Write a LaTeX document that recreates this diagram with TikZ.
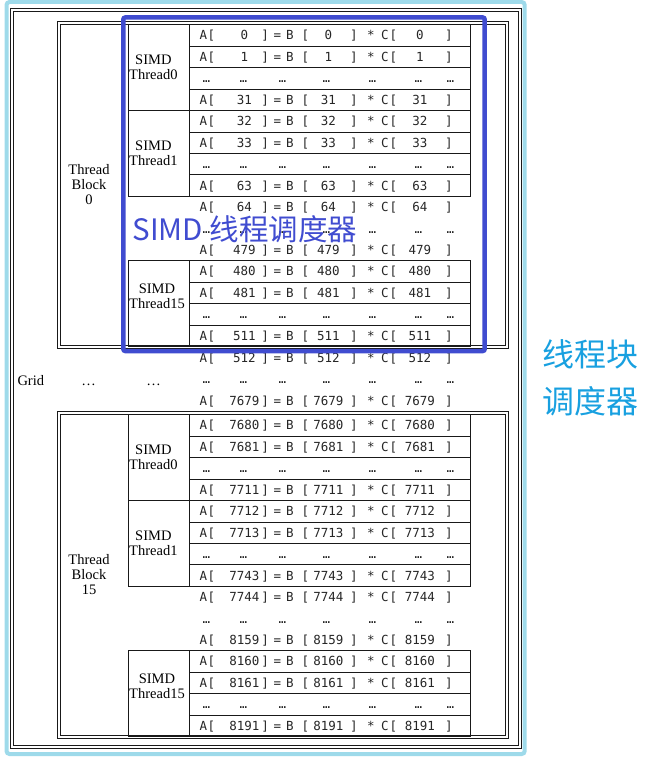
\documentclass[tikz,border=0pt]{standalone}
\usepackage{fontspec}
\setmainfont{Liberation Serif}
\newfontfamily\eqfont{DejaVu Sans Mono}
\newfontfamily\cjkfont{Noto Sans CJK SC}

\definecolor{simdblue}{RGB}{64,76,208}
\definecolor{frameblue}{RGB}{158,218,234}
\definecolor{tbblue}{RGB}{24,160,224}

% one character centred at a fixed offset from the cell's left edge
\newcommand\putc[2]{\makebox[0pt][l]{\hspace*{#1pt}\makebox[0pt][c]{#2}}}
\newcommand\eqline[3]{%
  \putc{14}{A}\putc{22}{[}\putc{55}{#1}\putc{75.6}{]}\putc{88}{=}%
  \putc{100.5}{B}\putc{116}{[}\putc{139}{#2}\putc{164.4}{]}\putc{181.5}{*}%
  \putc{195.5}{C}\putc{204}{[}\putc{230.5}{#3}\putc{259.4}{]}\hspace*{281pt}}
\newcommand\dotline{%
  \foreach \p in {17,54,93,137,183,229,261}{\putc{\p}{…}}\hspace*{281pt}}

\begin{document}
\begin{tikzpicture}[x=1pt,y=-1pt,
    frame/.style={line width=0.9pt, draw=black!90},
    cell/.style={draw=black!90, line width=0.9pt, inner sep=0pt,
      text height=15.2pt, text depth=6.25pt,
      font=\eqfont\fontsize{12.5}{14}\selectfont, text=black!85},
    free/.style={cell, draw=none},
    simdcell/.style={draw=black!90, line width=0.9pt, inner sep=0pt,
      minimum width=61pt, minimum height=85.8pt},
    simdlabel/.style={inner sep=0pt, align=center,
      font=\fontsize{14.5}{15}\selectfont},
    blocklabel/.style={inner sep=0pt, align=center,
      font=\fontsize{14.5}{15}\selectfont}]

\useasboundingbox (0,0) rectangle (670,760);

% scheduler frame and grid
\draw [line width=4pt, frameblue, rounded corners=3pt] (6.5,2) rectangle (524.7,754);
\draw [frame] (10.5,8.3) rectangle (521.3,748.5);
\draw [frame] (13.3,11) rectangle (518.5,745.7);

\node [inner sep=0pt, anchor=base west, font=\fontsize{14.5}{15}\selectfont] (grid) at (17.3,385) {Grid};
\node [inner sep=0pt, anchor=base, font=\fontsize{14.5}{15}\selectfont] (gdots1) at (88.5,385) {…};
\node [inner sep=0pt, anchor=base, font=\fontsize{14.5}{15}\selectfont] (gdots2) at (153.5,385) {…};

% thread blocks
\foreach \blk/\T/\base in {0/24.3/0, 15/414.3/7680} {
  \draw [frame] (57,\T-2.6) rectangle (508.3,\T+324.6);
  \draw [frame] (60,\T) rectangle (505,\T+321.6);
  \node [blocklabel] (tb\blk) at (89,\T+160.7) {Thread\\Block\\\blk};

  \foreach \r/\k/\st in {0/0/cell,1/1/cell,3/31/cell,4/32/cell,5/33/cell,7/63/cell,
                         8/64/free,10/479/free,11/480/cell,12/481/cell,14/511/cell} {
    \pgfmathtruncatemacro\n{\base+\k}
    \node [\st, anchor=north west] (r\blk-\r) at (189,{\T+\r*21.45}) {\eqline{\n}{\n}{\n}};
  }
  \foreach \r/\st in {2/cell,6/cell,9/free,13/cell}
    \node [\st, anchor=north west] (d\blk-\r) at (189,{\T+\r*21.45}) {\dotline};

  \foreach \s/\r/\dy in {0/0/0, 1/4/0, 15/11/7.5} {
    \node [simdcell, anchor=north west] (sc\blk-\s) at (128,{\T+\r*21.45}) {};
    \node [simdlabel, anchor=west] (sl\blk-\s) at ([xshift=1pt, yshift=\dy pt]sc\blk-\s.west) {SIMD\\Thread\s};
  }
}

% rows between the blocks
\node [free, anchor=north west] (r512) at (189,346.8) {\eqline{512}{512}{512}};
\node [free, anchor=north west] (dgrid) at (189,368.3) {\dotline};
\node [free, anchor=north west] (r7679) at (189,389.8) {\eqline{7679}{7679}{7679}};

% SIMD thread scheduler
\draw [line width=4.5pt, simdblue, rounded corners=2pt] (123.3,17.5) rectangle (484.7,351);
\node [inner sep=0pt, anchor=base west, text=simdblue, font=\cjkfont\fontsize{29.5}{32}\selectfont] (simdsched) at (132.5,240) {SIMD 线程调度器};

% thread block scheduler
\node [inner sep=0pt, align=center, text=tbblue, font=\cjkfont\fontsize{32}{47}\selectfont] (tbsched) at (590,377.5) {线程块\\调度器};

\end{tikzpicture}
\end{document}
